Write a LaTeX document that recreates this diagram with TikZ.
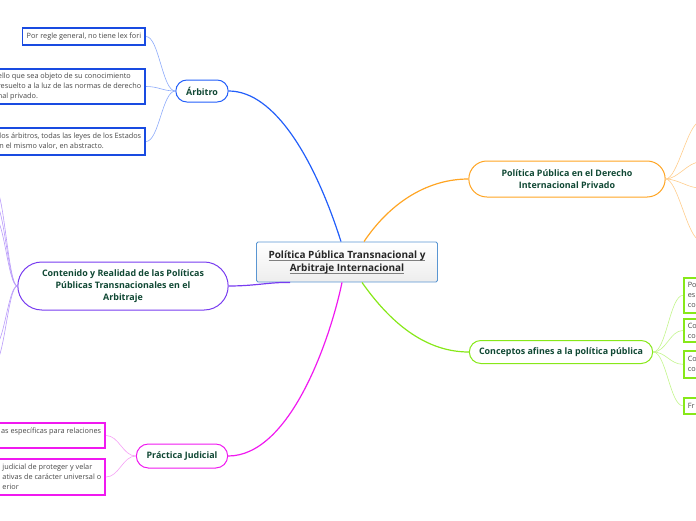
\documentclass[tikz,border=0pt]{standalone}
\usepackage{fontspec}
\setmainfont{Open Sans}
\usetikzlibrary{shapes.misc, positioning}
\definecolor{rootblue}{RGB}{90,150,210}
\definecolor{textgreen}{RGB}{16,72,52}
\definecolor{arbblue}{RGB}{35,95,250}
\definecolor{arbblueL}{RGB}{140,170,250}
\definecolor{leafblue}{RGB}{25,75,225}
\definecolor{dipor}{RGB}{255,165,35}
\definecolor{diporL}{RGB}{255,205,140}
\definecolor{concgr}{RGB}{135,232,25}
\definecolor{concgrL}{RGB}{195,245,140}
\definecolor{contpu}{RGB}{120,60,240}
\definecolor{contpuL}{RGB}{185,155,250}
\definecolor{pracmg}{RGB}{240,25,240}
\definecolor{pracmgL}{RGB}{245,160,245}
\newcommand\grayul[1]{\setbox0\hbox{#1}\rlap{\textcolor{gray}{\rule[-2.4pt]{\wd0}{1pt}}}\box0}
\tikzset{
  root/.style={rectangle, draw=rootblue, line width=0.9pt, rounded corners=1.5pt,
    top color=white, bottom color=gray!14, minimum width=181pt, minimum height=40pt,
    align=center, text=black!85, font=\fontsize{10}{13}\selectfont\bfseries},
  topic/.style={rounded rectangle, fill=white, line width=1pt, align=center,
    text=textgreen, font=\fontsize{8.9}{12.3}\selectfont\bfseries},
  leaf/.style={rectangle, fill=white, line width=1.6pt, align=left,
    text=black!72, font=\fontsize{7.3}{10}\selectfont, inner sep=4pt},
  mainline/.style={line width=1.2pt},
  twig/.style={line width=0.6pt},
}

\begin{document}
\begin{tikzpicture}[x=1pt, y=-1pt]
  \useasboundingbox (0,0) rectangle (696,520);

  % ---- centre ----
  \node[root] (root) at (347,262)
       {\grayul{Política Pública Transnacional y}\\\grayul{Arbitraje Internacional}};

  % ---- main topics ----
  \node[topic, draw=arbblue, minimum width=59pt, minimum height=22pt] (arb) at (202,91) {Árbitro};
  \node[topic, draw=dipor, minimum width=203pt, minimum height=36pt] (dip) at (567,179)
       {Política Pública en el Derecho\\Internacional Privado};
  \node[topic, draw=concgr, minimum width=190pt, minimum height=23pt] (conc) at (561,352)
       {Conceptos afines a la política pública};
  \node[topic, draw=contpu, minimum width=217pt, minimum height=48pt] (cont) at (123,286)
       {Contenido y Realidad de las Políticas\\Públicas Transnacionales en el\\Arbitraje};
  \node[topic, draw=pracmg, minimum width=98pt, minimum height=24pt] (prac) at (182,456)
       {Práctica Judicial};

  % ---- leaves: Árbitro ----
  \node[leaf, draw=leafblue, anchor=east, minimum height=17pt] (arbA) at (146,36.5)
       {Por regle general, no tiene lex fori};
  \node[leaf, draw=leafblue, anchor=east, minimum height=35pt] (arbB) at (146,86.5)
       {ello que sea objeto de su conocimiento\\resuelto a la luz de las normas de derecho\\nal privado.};
  \node[leaf, draw=leafblue, anchor=east, minimum height=27pt] (arbC) at (146,141.5)
       {los árbitros, todas las leyes de los Estados\\n el mismo valor, en abstracto.};

  % ---- leaves: Práctica Judicial ----
  \node[leaf, draw=pracmg, anchor=east, minimum height=25pt] (pracA) at (106,435.5)
       {as específicas para relaciones\\\mbox{}};
  \node[leaf, draw=pracmg, anchor=east, minimum height=36pt] (pracB) at (106,477)
       {judicial de proteger y velar\\ativas de carácter universal o\\erior};

  % ---- leaves: Conceptos afines ----
  \node[leaf, draw=concgr, anchor=north west, text width=30pt, minimum height=35pt] (concA) at (683,277)
       {Po\\es\\co};
  \node[leaf, draw=concgr, anchor=north west, text width=30pt, minimum height=22pt] (concB) at (683,318)
       {Co\\co};
  \node[leaf, draw=concgr, anchor=north west, text width=30pt, minimum height=27pt] (concC) at (683,350)
       {Co\\co};
  \node[leaf, draw=concgr, anchor=north west, text width=30pt, minimum height=16pt] (concD) at (683,397)
       {Fr};

  % ---- free ends beyond the page ----
  \coordinate (dipA) at (700,122);
  \coordinate (dipB) at (700,162);
  \coordinate (dipC) at (700,188);
  \coordinate (dipD) at (700,240);
  \coordinate (contA) at (-5,188);
  \coordinate (contB) at (-5,203);
  \coordinate (contC) at (-5,218);
  \coordinate (contD) at (-5,345);
  \coordinate (contE) at (-5,362);

  % ---- main branches ----
  \draw[mainline, arbblue] ([xshift=-6pt]root.north) .. controls (315,160) and (275,91) .. (arb.east);
  \draw[mainline, dipor]   ([xshift=17pt]root.north) .. controls (392,200) and (430,179) .. (dip.west);
  \draw[mainline, concgr]  ([xshift=15pt]root.south) .. controls (385,315) and (420,352) .. (conc.west);
  \draw[mainline, pracmg]  ([xshift=-5pt]root.south) .. controls (330,340) and (290,456) .. (prac.east);
  \draw[mainline, contpu]  ([xshift=-57pt]root.south) .. controls (270,282) and (255,286) .. (cont.east);

  % ---- twigs ----
  \foreach \leaf in {arbA, arbB, arbC}
    \draw[twig, arbblueL] (arb.west) to[out=180, in=0, distance=13pt] (\leaf.east);
  \foreach \leaf in {pracA, pracB}
    \draw[twig, pracmgL] (prac.west) to[out=180, in=0, distance=13pt] (\leaf.east);
  \foreach \leaf in {concA, concB, concC, concD}
    \draw[twig, concgrL] (conc.east) to[out=0, in=180, distance=13pt] (\leaf.west);
  \foreach \leaf in {dipA, dipB, dipC, dipD}
    \draw[twig, diporL] (dip.east) to[out=0, in=180, distance=12pt] (\leaf);
  \foreach \leaf in {contA, contB, contC, contD, contE}
    \draw[twig, contpuL] (cont.west) to[out=180, in=0, distance=9pt] (\leaf);
\end{tikzpicture}
\end{document}
